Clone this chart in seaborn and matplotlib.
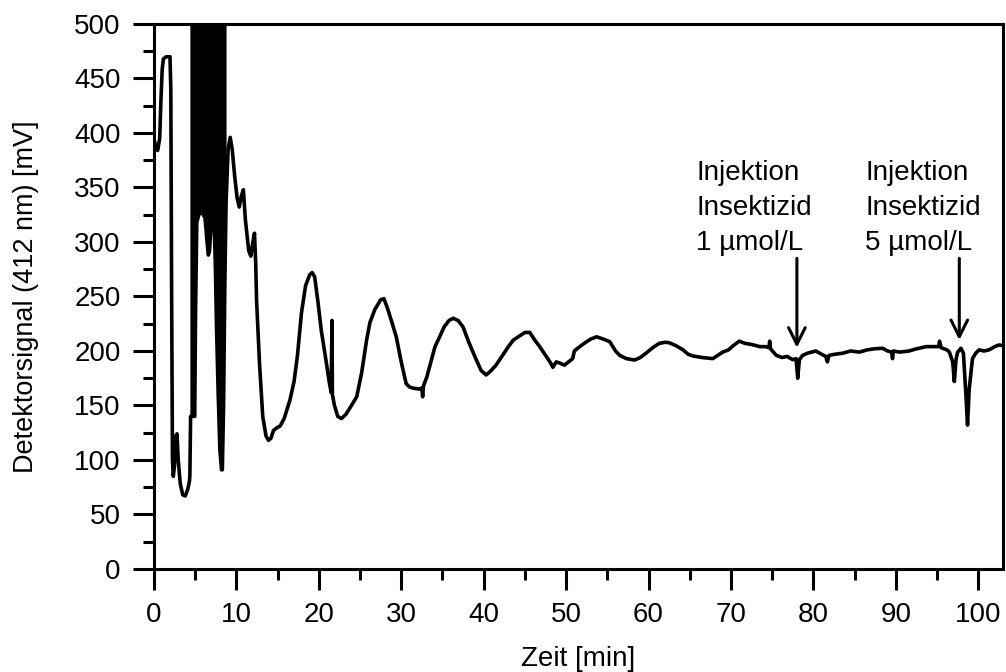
import numpy as np
import pandas as pd
import matplotlib
matplotlib.use("Agg")
import matplotlib.pyplot as plt
import seaborn as sns
from matplotlib.ticker import MultipleLocator

# Detector trace at 412 nm: time [min] and signal [mV]
time_min = [
    0.0, 0.2, 0.45, 0.7, 0.85, 1.0, 1.15, 1.5, 1.95, 2.05, 2.15, 2.25, 2.35, 2.5,
    2.65, 2.8, 2.95, 3.2, 3.5, 3.8, 4.1, 4.3, 4.36,
    # overload region (lower edge of the saturated oscillation)
    4.45, 4.95, 5.05, 5.2, 5.45, 5.8, 6.2, 6.45, 6.6, 6.75, 6.9, 7.1, 7.3, 7.45,
    7.6, 7.8, 8.0, 8.2, 8.3, 8.45, 8.6, 8.75,
    9.0, 9.25, 9.5, 9.8, 10.1, 10.35, 10.6, 10.85, 11.1, 11.5, 11.75, 12.0, 12.2,
    12.35, 12.45, 12.8, 13.2, 13.6, 13.9, 14.2, 14.5, 15.0, 15.3, 15.8, 16.5, 17.0,
    17.4, 17.9, 18.4, 18.9, 19.2, 19.5, 19.9, 20.3, 20.8, 21.3, 21.5, 21.6, 21.65,
    21.9, 22.3, 22.75, 23.3, 23.8, 24.6, 25.2, 25.8, 26.2, 26.8, 27.5, 27.9, 28.3,
    28.8, 29.4, 30.0, 30.6, 31.0, 31.4, 32.2, 32.5, 32.6, 32.7, 33.1, 33.6, 34.1,
    34.6, 35.2, 35.8, 36.3, 36.9, 37.5, 38.2, 39.1, 39.7, 40.3, 40.9, 41.5, 42.3,
    43.0, 43.6, 44.4, 45.0, 45.6, 46.2, 46.8, 47.6, 48.2, 48.4, 48.8, 49.2, 49.8,
    50.3, 50.8, 51.0, 51.4, 52.2, 53.0, 53.7, 54.5, 55.3, 56.0, 56.5, 57.3, 58.3,
    59.0, 59.7, 60.5, 61.3, 62.0, 62.5, 63.3, 64.2, 64.8, 65.4, 66.5, 67.8, 68.4,
    69.0, 69.7, 70.3, 71.0, 71.7, 72.5, 73.5, 74.2, 74.6, 74.7, 74.8, 75.5, 76.2,
    76.8, 77.5, 77.9, 78.1, 78.3, 78.7, 79.3, 80.3, 81.0, 81.5, 81.7, 81.9, 82.6,
    83.6, 84.5, 85.6, 86.5, 87.4, 88.4, 89.0, 89.5, 89.6, 89.7, 90.5, 91.6, 92.5,
    93.7, 94.5, 95.2, 95.3, 95.5, 96.2, 96.5, 96.9, 97.1, 97.3, 97.5, 97.9, 98.2,
    98.5, 98.7, 98.9, 99.3, 99.7, 100.1, 100.7, 101.3, 102.0, 102.5, 103.0,
]
signal_mv = [
    395, 388, 384, 395, 430, 458, 468, 470, 470, 440, 250, 100, 85, 95,
    122, 124, 100, 78, 68, 67, 73, 80, 85,
    140, 140, 235, 318, 325, 328, 322, 300, 288, 292, 312, 322, 318, 280,
    220, 160, 110, 91, 91, 150, 260, 335,
    385, 396, 385, 360, 340, 332, 342, 348, 320, 292, 287, 300, 308,
    280, 247, 190, 140, 122, 118, 120, 127, 130, 131, 138, 155, 172,
    195, 235, 260, 270, 272, 268, 245, 219, 195, 170, 162, 228, 160,
    150, 140, 138, 142, 148, 158, 180, 210, 226, 238, 247, 248, 240,
    228, 213, 190, 170, 167, 166, 165, 166, 158, 168, 176, 190, 204,
    212, 222, 228, 230, 228, 222, 208, 192, 182, 178, 182, 187, 196,
    204, 210, 214, 217, 217, 210, 204, 195, 188, 185, 190, 189, 187,
    190, 193, 200, 202.5, 207, 211, 213, 211, 208.5, 200, 196, 193, 191.7,
    194, 198, 203, 207, 208, 207.6, 205, 201, 197, 195.4, 194, 193, 196,
    199, 201, 205, 209, 207, 206, 204, 204, 203, 209, 202, 196, 194,
    195, 192, 193, 175, 192, 196, 198, 200, 197, 195, 190, 196, 197,
    198, 200, 199, 201, 202, 202.5, 200, 199, 193, 200, 199, 200, 202,
    204, 204, 204, 209, 203, 201, 199, 190, 172, 192, 199, 202.5, 198,
    160, 132, 165, 193, 198, 201, 200, 201, 204, 205.5, 205,
]

# Detector overload window and the off-scale level it saturates at
overload_start_min = 4.36
overload_end_min = 8.75
overload_level_mv = 520

# Injection markers: arrow time, arrow tip, arrow tail, label text
inject_time_min = [78.0, 97.7]
inject_tip_mv = [203, 210]
inject_tail_mv = [285, 285]
inject_label_x = [65.8, 86.3]
inject_lines = [
    ["Injektion", "Insektizid", "1 µmol/L"],
    ["Injektion", "Insektizid", "5 µmol/L"],
]
inject_line_mv = [363, 331, 299]

df = pd.DataFrame({"t": time_min, "s": signal_mv})

FS = 20

sns.set_theme(style="ticks")
plt.rcParams["font.family"] = ["Liberation Sans", "DejaVu Sans"]
plt.rcParams["font.size"] = FS
plt.rcParams["text.color"] = "black"
plt.rcParams["axes.labelcolor"] = "black"

fig = plt.figure(figsize=(10.06, 6.72), dpi=100)
ax = fig.add_axes([0.153, 0.1533, 0.844, 0.811])

sns.lineplot(data=df, x="t", y="s", sort=False, estimator=None,
             color="black", linewidth=2.6, ax=ax)

t = np.asarray(time_min)
s = np.asarray(signal_mv)
mask = (t >= overload_start_min) & (t <= overload_end_min)
ax.fill_between(t, s, overload_level_mv, where=mask, color="black",
                linewidth=0)

for xi, tip, tail in zip(inject_time_min, inject_tip_mv, inject_tail_mv):
    ax.annotate("", xy=(xi, tip), xytext=(xi, tail),
                arrowprops=dict(arrowstyle="->", color="black", lw=2.2,
                                mutation_scale=30, shrinkA=0, shrinkB=0))

for lx, lines in zip(inject_label_x, inject_lines):
    for txt, ly in zip(lines, inject_line_mv):
        ax.text(lx, ly, txt, ha="left", va="center", fontsize=FS,
                color="black")

ax.set_xlim(0, 103)
ax.set_ylim(0, 500)
ax.xaxis.set_major_locator(MultipleLocator(10))
ax.xaxis.set_minor_locator(MultipleLocator(5))
ax.yaxis.set_major_locator(MultipleLocator(50))
ax.yaxis.set_minor_locator(MultipleLocator(25))
ax.tick_params(which="major", direction="out", length=15, width=2.2,
               labelsize=FS, pad=9, colors="black")
ax.tick_params(which="minor", direction="out", length=8, width=2.2,
               colors="black")
ax.tick_params(top=False, right=False, which="both")
for sp in ax.spines.values():
    sp.set_visible(True)
    sp.set_linewidth(2.2)
    sp.set_color("black")

ax.set_xlabel("Zeit [min]", fontsize=FS, labelpad=13, color="black")
ax.set_ylabel("Detektorsignal (412 nm) [mV]", fontsize=19.5, labelpad=25,
              color="black")

fig.savefig("out.png", dpi=100, facecolor="white")
